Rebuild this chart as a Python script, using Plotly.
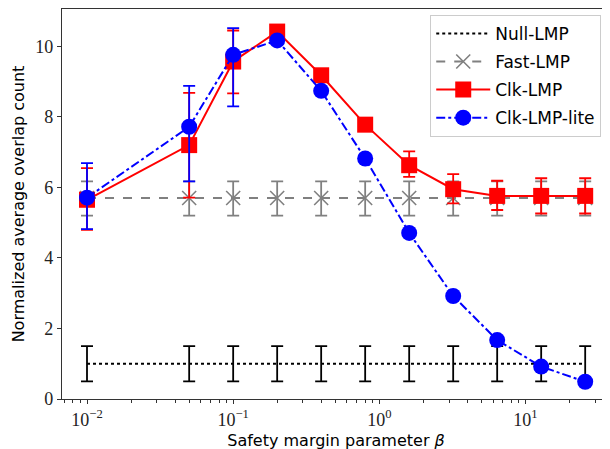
import plotly.graph_objects as go

beta = [0.01, 0.05, 0.1, 0.2, 0.4, 0.8, 1.6, 3.2, 6.4, 12.8, 25.6]

null_y = [1.0] * 11
null_err = [0.5] * 11

fast_y = [5.7] * 11
fast_plus = [0.47] * 11
fast_minus = [0.5] * 11

clk_y = [5.65, 7.2, 9.57, 10.42, 9.18, 7.78, 6.63, 5.95, 5.76, 5.76, 5.76]
clk_plus = [0.9, 1.48, 0.88, 0.1, 0.1, 0.12, 0.39, 0.43, 0.43, 0.5, 0.5]
clk_minus = [0.85, 1.49, 0.9, 0.1, 0.1, 0.12, 0.33, 0.4, 0.4, 0.5, 0.5]

lite_y = [5.71, 7.72, 9.76, 10.17, 8.74, 6.82, 4.71, 2.92, 1.67, 0.92, 0.49]
lite_plus = [0.98, 1.16, 0.76, 0.1, 0.08, 0.08, 0.05, 0.05, 0.05, 0.05, 0.05]
lite_minus = [0.89, 1.55, 1.46, 0.1, 0.08, 0.08, 0.05, 0.05, 0.05, 0.05, 0.05]

x_tick_vals = [0.01, 0.1, 1, 10]
x_tick_text = ["10<sup>\u22122</sup>", "10<sup>\u22121</sup>", "10<sup>0</sup>", "10<sup>1</sup>"]
minor_vals = [m * 10 ** k for k in range(-3, 2) for m in range(2, 10)]
y_tick_vals = [0, 2, 4, 6, 8, 10]

fig = go.Figure()

def err(plus, minus, color):
    return dict(type="data", symmetric=False, array=plus, arrayminus=minus,
                color=color, thickness=1.8, width=6)

fig.add_trace(go.Scatter(
    x=beta, y=null_y, name="Null-LMP", mode="lines", legendgroup="a",
    line=dict(color="black", width=2, dash="dot"),
    error_y=err(null_err, null_err, "black")))
fig.add_trace(go.Scatter(
    x=beta, y=fast_y, name="Fast-LMP", mode="lines+markers", legendgroup="b",
    line=dict(color="#808080", width=2, dash="dash"),
    marker=dict(symbol="x-thin", size=14, line=dict(color="#808080", width=1.6), color="#808080"),
    error_y=err(fast_plus, fast_minus, "#808080")))
fig.add_trace(go.Scatter(
    x=beta, y=clk_y, name="Clk-LMP", mode="lines+markers", legendgroup="c",
    line=dict(color="red", width=2),
    marker=dict(symbol="square", size=16, color="red"),
    error_y=err(clk_plus, clk_minus, "red")))
fig.add_trace(go.Scatter(
    x=beta, y=lite_y, name="Clk-LMP-lite", mode="lines+markers", legendgroup="d",
    line=dict(color="blue", width=2, dash="dashdot"),
    marker=dict(symbol="circle", size=16, color="blue"),
    error_y=err(lite_plus, lite_minus, "blue")))

tickfont = dict(family="Liberation Serif", size=18, color="#222")
# page body has an 8px margin, so figure is sized/offset to compensate
fig.update_layout(
    width=602, height=442,
    margin=dict(l=54, r=0, t=1, b=51),
    plot_bgcolor="white", paper_bgcolor="white",
    font=dict(family="DejaVu Sans", size=16, color="black"),
    showlegend=True,
    legend=dict(x=0.984, y=0.985, xanchor="right", yanchor="top",
                bgcolor="rgba(255,255,255,0.8)", bordercolor="#cccccc", borderwidth=1,
                font=dict(family="DejaVu Sans", size=17), traceorder="grouped",
                tracegroupgap=3, itemwidth=54),
    xaxis=dict(type="log", range=[-2.171, 1.578], tickvals=x_tick_vals, ticktext=x_tick_text,
               ticks="outside", ticklen=4, tickcolor="#333", showgrid=False, zeroline=False,
               showline=True, linecolor="#333", linewidth=1.2, mirror=True,
               tickfont=tickfont, automargin=False,
               minor=dict(tickvals=minor_vals, ticks="outside", ticklen=2.5, tickcolor="#333", showgrid=False),
               title=dict(text="Safety margin parameter <i>\u03b2</i>", font=dict(size=16), standoff=6)),
    yaxis=dict(range=[0, 11.06], tickvals=y_tick_vals, ticks="outside", ticklen=4, tickcolor="#333",
               showgrid=False, zeroline=False, showline=True, linecolor="#333", linewidth=1.2,
               mirror=True, tickfont=tickfont, automargin=False,
               title=dict(text="Normalized average overlap count", font=dict(size=16), standoff=6)),
)

fig.write_html("out.html")
